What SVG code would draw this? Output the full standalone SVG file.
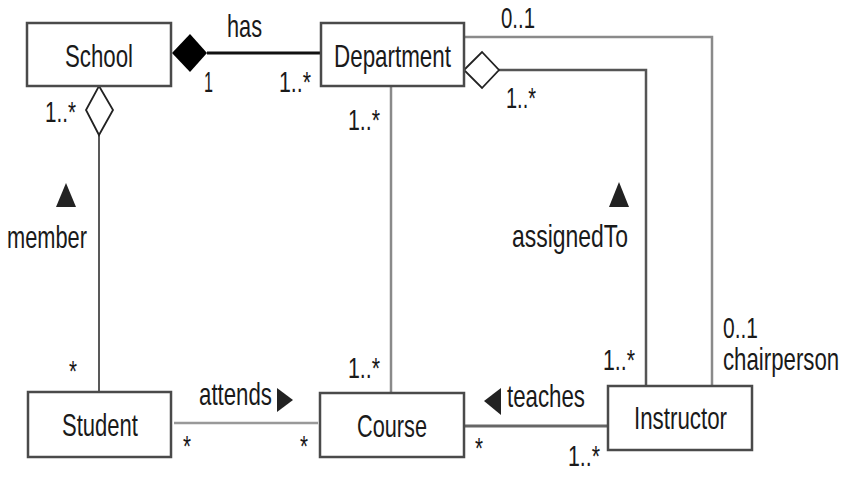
<svg xmlns="http://www.w3.org/2000/svg" width="854" height="488" viewBox="0 0 854 488">
<style>
text{font-family:"Liberation Sans",Arial,sans-serif;font-size:32px;fill:#1a1a1a}
.m{font-size:30px}
.box{fill:#fff;stroke:#4a4a4a;stroke-width:2.5}
.c{fill:none}
.tri{fill:#222}
</style>
<rect width="854" height="488" fill="#fff"/>
<g id="connectors">
<line class="c" x1="207" y1="53" x2="321" y2="53" stroke="#111" stroke-width="3"/>
<polygon points="172,53 190,34 207,53 190,72" fill="#000"/>
<line class="c" x1="99" y1="135" x2="99" y2="392" stroke="#222" stroke-width="1.5"/>
<polygon points="99,86 113,110 99,135 86,110" fill="#fff" stroke="#222" stroke-width="1.8"/>
<line class="c" x1="391" y1="86" x2="391" y2="393" stroke="#8a8a8a" stroke-width="2.5"/>
<polyline class="c" points="499,70 646,70 646,386" stroke="#555" stroke-width="2.5"/>
<polygon points="464,70 482,52 499,70 482,88" fill="#fff" stroke="#222" stroke-width="1.8"/>
<polyline class="c" points="464,37 712,37 712,386" stroke="#8a8a8a" stroke-width="2.5"/>
<line class="c" x1="174" y1="423" x2="318" y2="423" stroke="#999" stroke-width="2.5"/>
<line class="c" x1="464" y1="426" x2="608" y2="426" stroke="#666" stroke-width="3"/>
<polygon class="tri" points="56,207 66,183 76,207"/>
<polygon class="tri" points="609,207 619,182 629,207"/>
<polygon class="tri" points="277,388 293,400 277,412"/>
<polygon class="tri" points="501,388 484,401 501,415"/>
</g>
<g id="School">
<rect class="box" x="27" y="23" width="144" height="63"/>
<text x="65" y="67" textLength="68" lengthAdjust="spacingAndGlyphs">School</text>
</g>
<g id="Department">
<rect class="box" x="321" y="23" width="143" height="63"/>
<text x="334" y="67" textLength="117" lengthAdjust="spacingAndGlyphs">Department</text>
</g>
<g id="Student">
<rect class="box" x="28" y="392" width="143" height="65"/>
<text x="62" y="436" textLength="76" lengthAdjust="spacingAndGlyphs">Student</text>
</g>
<g id="Course">
<rect class="box" x="320" y="393" width="144" height="64"/>
<text x="357" y="437" textLength="70" lengthAdjust="spacingAndGlyphs">Course</text>
</g>
<g id="Instructor">
<rect class="box" x="608" y="386" width="144" height="64"/>
<text x="634" y="429" textLength="93" lengthAdjust="spacingAndGlyphs">Instructor</text>
</g>
<g id="labels">
<text x="227" y="37" textLength="35" lengthAdjust="spacingAndGlyphs">has</text>
<text class="m" x="204" y="92" textLength="9" lengthAdjust="spacingAndGlyphs">1</text>
<text class="m" x="279" y="92" textLength="32" lengthAdjust="spacingAndGlyphs">1..*</text>
<text class="m" transform="translate(501,28) scale(0.68,1)">0..1</text>
<text class="m" x="45" y="122" textLength="31" lengthAdjust="spacingAndGlyphs">1..*</text>
<text class="m" x="348" y="130" textLength="32" lengthAdjust="spacingAndGlyphs">1..*</text>
<text class="m" x="506" y="108" textLength="30" lengthAdjust="spacingAndGlyphs">1..*</text>
<text x="7" y="248" textLength="80" lengthAdjust="spacingAndGlyphs">member</text>
<text x="512" y="247" textLength="116" lengthAdjust="spacingAndGlyphs">assignedTo</text>
<text class="m" x="69" y="381" textLength="8" lengthAdjust="spacingAndGlyphs">*</text>
<text class="m" x="348" y="378" textLength="32" lengthAdjust="spacingAndGlyphs">1..*</text>
<text class="m" x="603" y="370" textLength="32" lengthAdjust="spacingAndGlyphs">1..*</text>
<text class="m" x="723" y="338" textLength="35" lengthAdjust="spacingAndGlyphs">0..1</text>
<text transform="translate(723,370) scale(0.695,1)">chairperson</text>
<text x="199" y="405" textLength="73" lengthAdjust="spacingAndGlyphs">attends</text>
<text x="507" y="407" textLength="78" lengthAdjust="spacingAndGlyphs">teaches</text>
<text class="m" x="183" y="456" textLength="8" lengthAdjust="spacingAndGlyphs">*</text>
<text class="m" x="300" y="456" textLength="8" lengthAdjust="spacingAndGlyphs">*</text>
<text class="m" x="475" y="458" textLength="8" lengthAdjust="spacingAndGlyphs">*</text>
<text class="m" x="568" y="466" textLength="32" lengthAdjust="spacingAndGlyphs">1..*</text>
</g>
</svg>
